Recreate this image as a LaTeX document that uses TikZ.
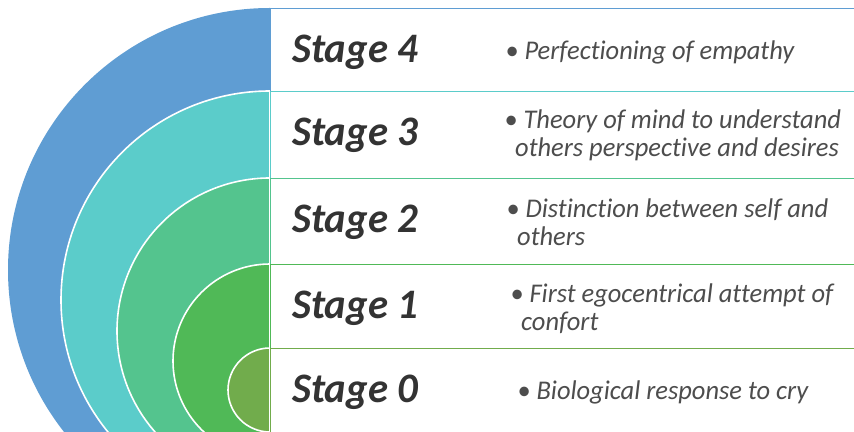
\documentclass[tikz,border=0pt]{standalone}
\usepackage{fontspec}
\setmainfont{Carlito}[Ligatures=NoCommon]
\usetikzlibrary{positioning}

\definecolor{stagefour}{HTML}{5F9DD3}
\definecolor{stagethree}{HTML}{5BCCCA}
\definecolor{stagetwo}{HTML}{54C48E}
\definecolor{stageone}{HTML}{50B957}
\definecolor{stagezero}{HTML}{71AC4C}
\definecolor{textgray}{HTML}{4D4D4D}

\newcommand{\hang}{\hspace*{5.5pt}}

\begin{document}
\begin{tikzpicture}[x=0.5pt, y=-0.5pt,
		stagebox/.style={draw, line width=0.7pt, fill=white, anchor=north west,
			minimum width=310pt, minimum height=44pt, inner sep=0pt},
		stagename/.style={font=\fontsize{21}{24}\selectfont\bfseries\itshape,
			text=black!80, xscale=0.97, inner sep=0pt},
		stagetext/.style={font=\fontsize{13.5}{14}\selectfont\itshape,
			text=textgray, xscale=0.98, align=left, inner sep=0pt},
		ring/.style={draw=white, line width=0.8pt}
		]
		\useasboundingbox (0,0) rectangle (854,432);
		\clip (0,0) rectangle (854,432);

		% half discs, outermost first
		\fill[stagefour] (270,8) arc[start angle=-90, end angle=-270, radius=262] -- cycle;
		\filldraw[ring, fill=stagethree] (270,91) arc[start angle=-90, end angle=-270, radius=209] -- cycle;
		\filldraw[ring, fill=stagetwo] (270,178) arc[start angle=-90, end angle=-270, radius=153] -- cycle;
		\filldraw[ring, fill=stageone] (270,264) arc[start angle=-90, end angle=-270, radius=97] -- cycle;
		\filldraw[ring, fill=stagezero] (270,348) arc[start angle=-90, end angle=-270, radius=42] -- cycle;

		% boxes, top to bottom (each one hides the bottom edge of the one above)
		\node[stagebox, draw=stagefour](box4) at (270,8){};
		\node[stagebox, draw=stagethree](box3) at (270,91){};
		\node[stagebox, draw=stagetwo](box2) at (270,178){};
		\node[stagebox, draw=stageone](box1) at (270,264){};
		\node[stagebox, draw=stagezero](box0) at (270,348){};

		\node[stagename, right=11pt of box4.west](S4){Stage 4};
		\node[stagename, right=11pt of box3.west](S3){Stage 3};
		\node[stagename, right=11pt of box2.west](S2){Stage 2};
		\node[stagename, right=11pt of box1.west](S1){Stage 1};
		\node[stagename, right=11pt of box0.west](S0){Stage 0};

		\node[stagetext, right=117.5pt of box4.west](T4){\textbullet\ Perfectioning of empathy};
		\node[stagetext, right=117pt of box3.west](T3){\textbullet\ Theory of mind to understand\\
			\hang others perspective and desires};
		\node[stagetext, right=118pt of box2.west](T2){\textbullet\ Distinction between self and\\
			\hang others};
		\node[stagetext, right=120pt of box1.west](T1){\textbullet\ First egocentrical attempt of\\
			\hang confort};
		\node[stagetext, right=123.5pt of box0.west](T0){\textbullet\ Biological response to cry};
	\end{tikzpicture}
\end{document}
